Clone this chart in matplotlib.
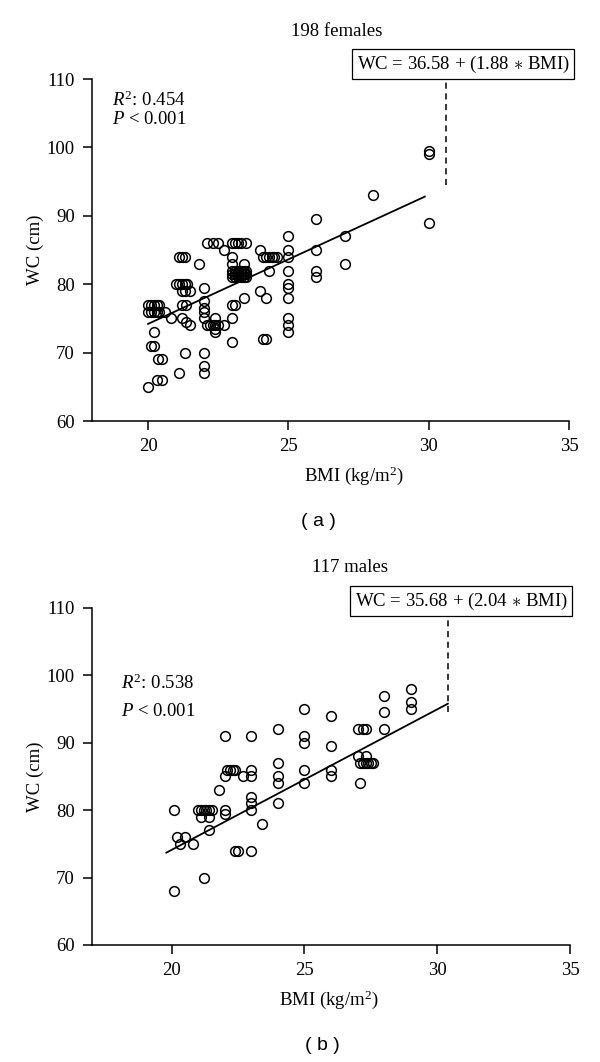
import matplotlib
matplotlib.use('Agg')
import matplotlib.pyplot as plt

plt.rcParams['font.family'] = ['Liberation Serif', 'DejaVu Serif']
plt.rcParams['mathtext.fontset'] = 'custom'
plt.rcParams['mathtext.rm'] = 'Liberation Serif'
plt.rcParams['mathtext.it'] = 'Liberation Serif:italic'

## data ##
# (a) females
fem_bmi = [20.0, 20.3, 20.5, 21.1, 22.0, 22.0, 22.0, 21.3, 20.35, 20.5, 20.1, 20.2, 20.2,
           23.0, 24.1, 24.2,
           25, 25, 25, 25, 25, 25, 25, 25, 25, 25,
           26, 26, 26, 26, 27, 27, 28, 30, 30, 30,
           20.0, 20.1, 20.2, 20.3, 20.4, 20.0, 20.1, 20.2, 20.3, 20.4, 20.6, 20.8,
           21.2, 21.35, 21.5, 21.2, 21.35,
           21.0, 21.1, 21.2, 21.3, 21.4, 21.2, 21.3, 21.5, 21.1, 21.2, 21.3, 21.8,
           22.0, 22.0, 22.0, 22.0, 22.0,
           22.1, 22.2, 22.3, 22.5, 22.7, 22.4, 22.4, 22.4, 22.4,
           23.0, 23.0, 23.1, 23.4, 24.0, 24.2, 24.3,
           23.0, 23.1, 23.2, 23.3, 23.4, 23.5,
           23.0, 23.1, 23.2, 23.3, 23.4, 23.5,
           23.0, 23.1, 23.2, 23.3, 23.4, 23.5,
           23.0, 23.0, 23.4,
           22.1, 22.3, 22.5, 22.7, 23.0, 23.1, 23.2, 23.3, 23.5, 24.0,
           24.1, 24.2, 24.3, 24.4, 24.5, 24.6]
fem_wc = [65, 66, 66, 67, 68, 67, 70, 70, 69, 69, 71, 71, 73,
          71.5, 72, 72,
          73, 74, 75, 78, 79.5, 80, 82, 84, 85, 87,
          89.5, 85, 82, 81, 87, 83, 93, 89, 99, 99.5,
          77, 77, 77, 77, 77, 76, 76, 76, 76, 76, 76, 75,
          75, 74.5, 74, 77, 77,
          80, 80, 80, 80, 80, 79, 79, 79, 84, 84, 84, 83,
          79.5, 77.5, 76.5, 76, 75,
          74, 74, 74, 74, 74, 74, 73.5, 73, 75,
          75, 77, 77, 78, 79, 78, 82,
          82, 82, 82, 82, 82, 82,
          81.5, 81.5, 81.5, 81.5, 81.5, 81.5,
          81, 81, 81, 81, 81, 81,
          84, 83, 83,
          86, 86, 86, 85, 86, 86, 86, 86, 86, 85,
          84, 84, 84, 84, 84, 84]
fem_fit_x = [20.0, 29.86]
fem_fit_y = [74.2, 92.8]
fem_eq = 'WC = 36.58 + (1.88 $\\ast$ BMI)'

# (b) males
male_bmi = [20.1, 20.1, 20.2, 20.5, 20.3, 20.8, 21.2, 21.4,
            21.0, 21.1, 21.2, 21.3, 21.4, 21.5, 21.1, 21.4,
            22.0, 22.0, 21.8, 22.0, 22.1, 22.2, 22.3, 22.4, 22.7,
            22.0, 23.0, 23.0, 23.0, 23.0, 23.0, 23.0,
            22.4, 22.5, 23.0, 23.4,
            24, 24, 24, 24, 24, 25, 25, 25, 25, 25, 26, 26, 26, 26,
            27.0, 27.2, 27.3, 27.0, 27.3,
            27.1, 27.2, 27.3, 27.4, 27.5, 27.6, 27.1,
            28, 28, 28, 29, 29, 29]
male_wc = [68, 80, 76, 76, 75, 75, 70, 77,
           80, 80, 80, 80, 80, 80, 79, 79,
           80, 79.5, 83, 85, 86, 86, 86, 86, 85,
           91, 91, 86, 85, 82, 81, 80,
           74, 74, 74, 78,
           92, 87, 85, 84, 81, 95, 91, 90, 86, 84, 94, 89.5, 86, 85,
           92, 92, 92, 88, 88,
           87, 87, 87, 87, 87, 87, 84,
           97, 94.5, 92, 98, 96, 95]
male_fit_x = [19.8, 30.4]
male_fit_y = [73.7, 95.8]
male_eq = 'WC = 35.68 + (2.04 $\\ast$ BMI)'

W, H = 600, 1062
fig = plt.figure(figsize=(6, 10.62), dpi=100)

def px(x, y):
    return x / W, 1 - y / H

def panel(rect, bmi, wc, fitx, fity, xmin, dash_x, dash_y0, dash_y1,
          eq, eq_xy, title, title_xy, r2, r2_xy, p_dy, xlab_x, tag, tag_xy):
    ax = fig.add_axes(rect)
    ax.plot(bmi, wc, 'o', mfc='none', mec='black', ms=7, mew=1.1, ls='none')
    ax.plot(fitx, fity, color='black', lw=1.3)
    ax.plot([dash_x, dash_x], [dash_y0, dash_y1], color='black', lw=1.1,
            ls=(0, (4, 3)), clip_on=False)
    ax.set_xlim(xmin, 35)
    ax.set_ylim(60, 110)
    ax.set_xticks([20, 25, 30, 35])
    ax.set_yticks([60, 70, 80, 90, 100, 110])
    for s in ['top', 'right']:
        ax.spines[s].set_visible(False)
    for s in ['left', 'bottom']:
        ax.spines[s].set_linewidth(1.1)
    ax.tick_params(direction='out', length=6.5, width=1.1, labelsize=13.5, pad=6)
    ax.set_xlabel('BMI (kg/m$^2$)', fontsize=13.5)
    ax.xaxis.set_label_coords(xlab_x, -0.128)
    ax.set_ylabel('WC (cm)', fontsize=13.5)
    ax.yaxis.set_label_coords(-0.1, 0.5)

    x, y = px(*eq_xy)
    fig.text(x, y, eq, fontsize=13.5, ha='center', va='center',
             bbox=dict(boxstyle='square,pad=0.22', fc='white', ec='black', lw=0.9))
    x, y = px(*title_xy)
    fig.text(x, y, title, fontsize=13.5, ha='center', va='center')
    x, y = px(*r2_xy)
    fig.text(x, y, '$\\mathit{R}^2$: ' + r2, fontsize=13.5, ha='left', va='center')
    x, y = px(r2_xy[0], r2_xy[1] + p_dy)
    fig.text(x, y, '$\\mathit{P}$ < 0.001', fontsize=13.5, ha='left', va='center')
    x, y = px(*tag_xy)
    fig.text(x, y, tag, fontsize=14, ha='center', va='center',
             family=['Liberation Sans', 'DejaVu Sans'])
    return ax

panel([92 / W, 1 - 421 / H, 477 / W, 342 / H], fem_bmi, fem_wc, fem_fit_x, fem_fit_y,
      18, 30.6, 94.5, 110.3, fem_eq, (463, 64), '198 females', (337, 31),
      '0.454', (112, 100), 20, 0.549, '( a )', (318, 522))
panel([92 / W, 1 - 945 / H, 478 / W, 337 / H], male_bmi, male_wc, male_fit_x, male_fit_y,
      17, 30.4, 94.6, 109.1, male_eq, (461, 601), '117 males', (350, 568),
      '0.538', (121, 683), 29, 0.496, '( b )', (322, 1045))

fig.savefig('out.png', dpi=100)
